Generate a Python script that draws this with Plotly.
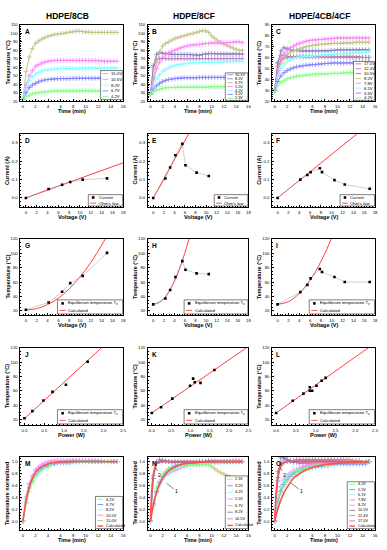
import plotly.graph_objects as go

FONT = "Liberation Sans, Arial, sans-serif"
W, H = 387, 550

# ---------------- data ----------------
T_MIN = [0, 0.5, 1, 1.5, 2, 2.5, 3, 3.5, 4, 4.5, 5, 5.5, 6, 6.5, 7, 7.5,
         8, 8.5, 9, 9.5, 10, 10.5, 11, 11.5, 12, 12.5, 13, 13.5, 14, 14.5, 15]

# A: HDPE/8CB heating curves
A_LABELS = ["15.0V", "10.5V", "8.2V", "6.7V", "4.2V"]
A_15_0 = [22, 55, 72, 82, 88, 91, 93, 95, 96.5, 97.5, 98.5, 99, 99.5, 100, 101, 101.5,
          102, 102.5, 102.5, 102, 101.5, 101.5, 101, 101, 101, 101, 101, 101, 101, 101, 101]
A_10_5 = [22, 39, 50, 56, 61, 63, 65, 66, 67, 67.5, 68, 68, 68, 68, 68, 68,
          68, 68, 68, 68, 68, 68, 68, 68, 67.5, 67.5, 67, 67, 67, 67, 67]
A_8_2 = [22, 35, 44, 49, 52, 54, 55.5, 56.5, 57, 57.5, 58, 58, 58.5, 58.5, 58.5, 58.5,
         58.5, 58.5, 58.5, 58.5, 59, 59, 59, 59, 59, 59, 59, 59, 59, 59, 59]
A_6_7 = [22, 30, 36, 39, 41, 43, 44, 45, 45.5, 46, 46, 46.5, 46.5, 46.5, 46.5, 46.5,
         47, 47, 47, 47, 47, 47, 47, 47, 47, 47, 47, 47, 47, 47, 47]
A_4_2 = [22, 25, 27, 28.5, 29.5, 30, 30.5, 31, 31, 31.5, 32, 32, 32, 32, 32, 32,
         32, 32, 32, 32, 32, 32, 32, 32, 32, 32, 32, 32, 32, 32, 32]
A_REF = [101, 67, 59, 47, 32]

# B: HDPE/8CF heating curves
B_LABELS = ["10.5V", "8.2V", "6.7V", "5.5V", "4.2V", "3.2V", "2.3V"]
B_10_5 = [28, 60, 69, 70, 70.5, 70, 70, 70, 70, 70, 70, 70, 70, 70, 70, 70,
          70, 70, 70, 70, 70, 70, 70, 70, 70, 70, 70, 70, 70, 70, 70]
B_8_2 = [28, 62, 75, 77, 76.5, 76, 75.5, 75, 75, 75, 75, 75, 75, 75, 74.5, 74.5,
         74, 75, 75.5, 76, 76, 76, 75.5, 75.5, 75.5, 75.5, 75.5, 75.5, 75.5, 75.5, 75.5]
B_6_7 = [28, 48, 65, 78, 85, 88, 90, 92, 94, 95, 96, 97, 98, 99, 100, 101,
         102, 103, 103, 101, 97, 94, 91, 89, 87, 85.5, 84, 82.5, 81, 80, 80]
B_5_5 = [28, 45, 58, 66, 71, 75, 77, 79, 80, 81.5, 83, 84, 85, 86, 86, 86.5,
         87, 87.5, 88, 88, 88.5, 88.5, 88.5, 89, 89, 89, 89, 89.5, 90, 90, 89]
B_4_2 = [28, 38, 46, 51, 55, 57.5, 59.5, 61, 62, 63, 63.5, 64, 64.5, 65, 65, 65.5,
         65.5, 66, 66, 66, 66, 66, 66, 66, 66.5, 66.5, 66.5, 66.5, 67, 67, 67]
B_3_2 = [28, 34, 38, 41, 43, 44.5, 45.5, 46, 46.5, 47, 47, 47.5, 47.5, 47.5, 47.5, 47.5,
         48, 48, 48, 48, 48, 48, 48, 48, 48, 48, 48, 48, 48, 48, 48]
B_2_3 = [28, 31, 33, 34, 35, 35.5, 36, 36, 36, 36.5, 36.5, 36.5, 36.5, 36.5, 36.5, 36.5,
         36.5, 36.5, 36.5, 36.5, 37, 37, 37, 37, 37, 37, 37, 37, 37, 37, 37]
B_REF = [70, 75.5, 103, 89, 67, 48, 37]

# C: HDPE/4CB/4CF heating curves
C_LABELS = ["17.0V", "12.4V", "10.5V", "8.2V", "7.8V", "6.1V", "5.5V", "4.2V"]
C_17_0 = [30, 52, 58, 59.5, 60, 60.5, 60.5, 61, 61, 61, 61, 61, 61, 61, 61, 61,
          61, 61, 61, 61, 61, 61, 61, 61, 61, 60.5, 60.5, 60.5, 60, 60, 60]
C_12_4 = [30, 55, 62, 62, 61, 60.5, 60.5, 60.5, 60.5, 60.5, 60.5, 60.5, 60.5, 60.5, 60.5, 60.5,
          60.5, 60.5, 60.5, 60.5, 60.5, 60.5, 60.5, 60.5, 60, 60, 60, 60, 60, 60, 60]
C_10_5 = [30, 55, 66, 69, 68, 67, 66.5, 66.5, 66, 66, 66, 66, 66, 66, 66, 66,
          66, 66, 66.5, 66.5, 67, 67, 67, 67, 67, 67, 67, 67, 67, 67, 67]
C_8_2 = [30, 45, 55, 60, 63, 65, 66, 67, 68, 69, 70, 70.5, 71, 71.5, 72, 72,
         72.5, 72.5, 73, 73, 73, 73, 73.5, 73.5, 73.5, 73.5, 74, 74, 74, 74, 74]
C_7_8 = [30, 48, 58, 64, 67, 69, 70.5, 72, 73, 74, 75, 75.5, 76, 76, 76.5, 76.5,
         77, 77, 77.5, 77.5, 78, 78, 78, 78, 78, 78, 78, 78, 78, 78, 78]
C_6_1 = [30, 42, 50, 54, 56.5, 58, 59, 60, 60.5, 60.5, 61, 61, 61.5, 61.5, 62, 62,
         62.5, 62.5, 63, 63, 63.5, 63.5, 64, 64, 64, 64, 64, 64, 64.5, 64.5, 65]
C_5_5 = [30, 38, 43, 46, 48, 49.5, 50.5, 51.5, 52, 52.5, 53, 53, 53.5, 53.5, 54, 54,
         54.5, 54.5, 55, 55, 55, 55, 55, 55, 55, 55, 55, 55, 55, 55, 56]
C_4_2 = [29, 34, 37, 39, 40.5, 41.5, 42, 43, 43.5, 43.5, 44, 44, 44.5, 44.5, 45, 45,
         45, 45, 45.5, 45.5, 45.5, 45.5, 46, 46, 46, 46, 46, 46, 46, 46, 46]
C_REF = [60, 60, 67, 74, 78, 65, 56, 46]

# D/E/F: current vs voltage
D_V = [0, 4.2, 6.7, 8.2, 10.5, 15.0]
D_I = [0, 0.049, 0.072, 0.087, 0.100, 0.107]
D_OHM_V = [0, 18]
D_OHM_I = [0, 0.192]
E_V = [0, 2.3, 3.2, 4.2, 5.5, 6.1, 8.2, 10.5]
E_I = [0, 0.106, 0.166, 0.233, 0.295, 0.178, 0.138, 0.120]
E_OHM_V = [0, 6.7]
E_OHM_I = [0, 0.35]
F_V = [0, 4.2, 5.5, 6.1, 7.8, 8.2, 10.5, 12.4, 17.0]
F_I = [0, 0.100, 0.125, 0.140, 0.162, 0.141, 0.097, 0.073, 0.050]
F_OHM_V = [0, 14.7]
F_OHM_I = [0, 0.35]

# G/H/I: equilibrium temperature vs voltage
G_V = D_V
G_T = [21.5, 31.5, 46.5, 58.5, 68.5, 100.5]
G_CALC_V = [0, 2, 4, 6, 8, 10, 12, 14, 14.7]
G_CALC_T = [21, 23, 28.5, 37.5, 50.5, 67, 87, 111, 120]
H_V = E_V
H_T = [29, 37, 49, 67, 89, 77, 72, 71]
H_CALC_V = [0, 1, 2, 3, 4, 5, 6, 6.75]
H_CALC_T = [29, 31, 37, 47, 61, 79, 101, 120]
I_V = F_V
I_T = [29, 46, 56, 65, 78, 74, 67, 60, 60]
I_CALC_V = [0, 2, 4, 6, 7, 8, 9, 9.9]
I_CALC_T = [29, 32.7, 44, 62.5, 74.5, 88.5, 104, 120]

# J/K/L: equilibrium temperature vs power
J_P = [0, 0.20, 0.48, 0.71, 1.05, 1.60]
J_CALC_P = [0, 1.95]
J_CALC_T = [21, 120]
K_P = [0, 0.24, 0.53, 0.99, 1.62, 1.07, 1.11, 1.26]
K_CALC_P = [0, 2.45]
K_CALC_T = [29, 120]
L_P = [0, 0.42, 0.69, 0.85, 1.25, 1.15, 1.02, 0.91, 0.85]
L_CALC_P = [0, 2.33]
L_CALC_T = [29, 120]

# M/N/O: calculated normalized curves
M_CALC_T = [0, 0.5, 1, 1.5, 2, 2.5, 3, 4, 5, 6, 8, 15]
M_CALC_N = [0, 0.35, 0.57, 0.72, 0.82, 0.88, 0.92, 0.965, 0.985, 0.995, 1, 1]
N_FAST_T = [0, 0.25, 0.5, 0.75, 1, 1.5, 2, 3, 15]
N_FAST_N = [0, 0.55, 0.80, 0.91, 0.96, 0.99, 1, 1, 1]
N_SLOW_T = [0, 0.5, 1, 1.5, 2, 2.5, 3, 4, 5, 6, 8, 10, 15]
N_SLOW_N = [0, 0.28, 0.48, 0.62, 0.72, 0.79, 0.85, 0.91, 0.95, 0.97, 0.99, 1, 1]
O_FAST_T = [0, 0.25, 0.5, 0.75, 1, 1.5, 2, 3, 15]
O_FAST_N = [0, 0.5, 0.75, 0.88, 0.94, 0.985, 1, 1, 1]
O_SLOW_T = [0, 0.5, 1, 1.5, 2, 2.5, 3, 4, 5, 6, 8, 10, 12, 15]
O_SLOW_N = [0, 0.2, 0.36, 0.48, 0.57, 0.65, 0.72, 0.8, 0.86, 0.9, 0.95, 0.97, 0.985, 1.0]

# colours
GREEN, BLUE, CYAN, MAGENTA = "#80FF80", "#8080FF", "#80FFFF", "#FF80FF"
OLIVE, NAVY, PURPLE, WINE = "#C0C080", "#8080C0", "#C080C0", "#C08080"
RED = "#FF4040"
A_COLORS = [OLIVE, MAGENTA, CYAN, BLUE, GREEN]
B_COLORS = [PURPLE, NAVY, OLIVE, MAGENTA, CYAN, BLUE, GREEN]
C_COLORS = [WINE, PURPLE, NAVY, OLIVE, MAGENTA, CYAN, BLUE, GREEN]

A_SERIES = [A_15_0, A_10_5, A_8_2, A_6_7, A_4_2]
B_SERIES = [B_10_5, B_8_2, B_6_7, B_5_5, B_4_2, B_3_2, B_2_3]
C_SERIES = [C_17_0, C_12_4, C_10_5, C_8_2, C_7_8, C_6_1, C_5_5, C_4_2]

# ---------------- layout helpers ----------------
COLS_PX = [(20.7, 124.5), (149.5, 251.0), (275.0, 379.0)]
ROWS_PX = [(23, 100), (133, 207), (239, 316), (349, 427), (459, 533)]

fig = go.Figure()


def nid(r, c):
    return r * 3 + c + 1


def xn(n):
    return "x" if n == 1 else f"x{n}"


def yn(n):
    return "y" if n == 1 else f"y{n}"


def add_axes(r, c, xr, yr, xdt, ydt, xtitle, ytitle, xfmt="", yfmt="", letter=""):
    n = nid(r, c)
    x0, x1 = COLS_PX[c]
    y0, y1 = ROWS_PX[r]
    common = dict(showline=True, linecolor="black", linewidth=0.7, mirror=True,
                  ticks="inside", ticklen=2, tickwidth=0.6, tickcolor="black",
                  showgrid=False, zeroline=False, tick0=0, ticklabelstandoff=1,
                  tickfont=dict(size=4.3, family=FONT, color="black"),
                  minor=dict(ticks="inside", ticklen=1, tickwidth=0.5, tickcolor="black"))
    kx = "xaxis" if n == 1 else f"xaxis{n}"
    ky = "yaxis" if n == 1 else f"yaxis{n}"
    fig.update_layout(**{
        kx: dict(domain=[x0 / W, x1 / W], anchor=yn(n), range=xr, dtick=xdt,
                 tickformat=xfmt, **common),
        ky: dict(domain=[1 - y1 / H, 1 - y0 / H], anchor=xn(n), range=yr, dtick=ydt,
                 tickformat=yfmt, **common),
    })
    fig.add_annotation(x=(x0 + x1) / 2 / W, y=1 - (y1 + 10) / H, xref="paper", yref="paper",
                       text=f"<b>{xtitle}</b>", showarrow=False, borderpad=0,
                       font=dict(size=5.5, family=FONT, color="black"),
                       xanchor="center", yanchor="middle")
    fig.add_annotation(x=(x0 - 13) / W, y=1 - (y0 + y1) / 2 / H, xref="paper", yref="paper",
                       text=f"<b>{ytitle}</b>", showarrow=False, textangle=-90, borderpad=0,
                       font=dict(size=5.5, family=FONT, color="black"),
                       xanchor="center", yanchor="middle")
    fig.add_annotation(x=0.03, y=0.97, xref=f"{xn(n)} domain", yref=f"{yn(n)} domain",
                       text=f"<b>{letter}</b>", showarrow=False, borderpad=0,
                       font=dict(size=6.5, family=FONT, color="black"),
                       xanchor="left", yanchor="top")
    return n


def legend(n, items, x0, x1, y0, y1, fs=4.2, samp=0.055):
    xr, yr = f"{xn(n)} domain", f"{yn(n)} domain"
    r, c = divmod(n - 1, 3)
    wpx = COLS_PX[c][1] - COLS_PX[c][0]
    hpx = ROWS_PX[r][1] - ROWS_PX[r][0]
    fig.add_shape(type="rect", xref=xr, yref=yr, x0=x0, x1=x1, y0=y0, y1=y1,
                  line=dict(color="black", width=0.5), fillcolor="white")
    step = (y1 - y0) / len(items)
    for i, (label, color, kind) in enumerate(items):
        yc = y1 - step * (i + 0.5)
        xs = x0 + 0.02
        if kind == "marker":
            cx = xs + samp / 2
            dx, dy = 1.3 / wpx, 1.3 / hpx
            fig.add_shape(type="rect", xref=xr, yref=yr, x0=cx - dx, x1=cx + dx,
                          y0=yc - dy, y1=yc + dy, line=dict(width=0), fillcolor="black")
        else:
            w = 1.4 if kind == "thick" else 0.9
            fig.add_shape(type="line", xref=xr, yref=yr, x0=xs, x1=xs + samp, y0=yc, y1=yc,
                          line=dict(color=color, width=w))
        fig.add_annotation(x=xs + samp + 0.015, y=yc, xref=xr, yref=yr, text=label,
                           showarrow=False, borderpad=0,
                           font=dict(size=fs, family=FONT, color="black"),
                           xanchor="left", yanchor="middle")


def curve(n, x, y, color, width=0.9, marker=True, shape="linear"):
    fig.add_trace(go.Scatter(
        x=x, y=y, xaxis=xn(n), yaxis=yn(n), showlegend=False,
        mode="lines+markers" if marker else "lines",
        line=dict(color=color, width=width, shape=shape),
        marker=dict(symbol="cross-thin", size=3.5, line=dict(width=0.8, color=color)),
        hoverinfo="skip"))


def points(n, x, y, connect=True):
    fig.add_trace(go.Scatter(
        x=x, y=y, xaxis=xn(n), yaxis=yn(n), showlegend=False,
        mode="lines+markers" if connect else "markers",
        line=dict(color="#A0A0A0", width=0.5),
        marker=dict(symbol="square", size=2.6, color="black"),
        hoverinfo="skip"))


def normalize(series, ref):
    return [(v - series[0]) / (ref - series[0]) for v in series]


# column titles
for c, title in enumerate(["HDPE/8CB", "HDPE/8CF", "HDPE/4CB/4CF"]):
    x0, x1 = COLS_PX[c]
    fig.add_annotation(x=((x0 + x1) / 2 - 4) / W, y=1 - 14 / H, xref="paper", yref="paper",
                       text=f"<b>{title}</b>", showarrow=False,
                       font=dict(size=8.5, family=FONT, color="black"),
                       xanchor="center", yanchor="middle")

# ---------------- row 1: heating curves ----------------
for c, (series, labels, colors, yr, letter) in enumerate([
        (A_SERIES, A_LABELS, A_COLORS, [20, 110], "A"),
        (B_SERIES, B_LABELS, B_COLORS, [20, 110], "B"),
        (C_SERIES, C_LABELS, C_COLORS, [20, 90], "C")]):
    n = add_axes(0, c, [-0.4, 16], yr, 2, 10, "Time (min)", "Temperature (°C)", letter=letter)
    for s, col in zip(series, colors):
        curve(n, T_MIN, s, col)
legend(nid(0, 0), [(l, c, "line") for l, c in zip(A_LABELS, A_COLORS)], 0.78, 0.995, 0.02, 0.40)
legend(nid(0, 1), [(l, c, "line") for l, c in zip(B_LABELS, B_COLORS)], 0.77, 0.995, 0.01, 0.37, fs=3.8)
legend(nid(0, 2), [(l, c, "line") for l, c in zip(C_LABELS, C_COLORS)], 0.79, 0.995, 0.01, 0.52)

# ---------------- row 2: current vs voltage ----------------
for c, (v, i, ov, oi, letter) in enumerate([
        (D_V, D_I, D_OHM_V, D_OHM_I, "D"),
        (E_V, E_I, E_OHM_V, E_OHM_I, "E"),
        (F_V, F_I, F_OHM_V, F_OHM_I, "F")]):
    n = add_axes(1, c, [-1, 18], [-0.05, 0.35], 2, 0.1, "Voltage (V)", "Current (A)",
                 yfmt=".1f", letter=letter)
    fig.add_trace(go.Scatter(x=ov, y=oi, xaxis=xn(n), yaxis=yn(n), mode="lines",
                             line=dict(color=RED, width=1), showlegend=False, hoverinfo="skip"))
    points(n, v, i)
    legend(n, [("Current", "black", "marker"), ("Ohm's law", RED, "line")],
           0.66, 0.995, 0.015, 0.17)

# ---------------- row 3: temperature vs voltage ----------------
for c, (v, t, cv, ct, letter) in enumerate([
        (G_V, G_T, G_CALC_V, G_CALC_T, "G"),
        (H_V, H_T, H_CALC_V, H_CALC_T, "H"),
        (I_V, I_T, I_CALC_V, I_CALC_T, "I")]):
    n = add_axes(2, c, [-1, 18], [14, 120], 2, 20, "Voltage (V)", "Temperature (°C)", letter=letter)
    fig.add_trace(go.Scatter(x=cv, y=ct, xaxis=xn(n), yaxis=yn(n), mode="lines",
                             line=dict(color=RED, width=1, shape="spline"),
                             showlegend=False, hoverinfo="skip"))
    points(n, v, t)
    legend(n, [("Equilibrium temperature T<sub>e</sub>", "black", "marker"),
               ("Calculated", RED, "line")], 0.36, 0.995, 0.015, 0.20, samp=0.06)

# ---------------- row 4: temperature vs power ----------------
for c, (p, t, cp, ct, letter) in enumerate([
        (J_P, G_T, J_CALC_P, J_CALC_T, "J"),
        (K_P, H_T, K_CALC_P, K_CALC_T, "K"),
        (L_P, I_T, L_CALC_P, L_CALC_T, "L")]):
    n = add_axes(3, c, [-0.1, 2.5], [12, 120], 0.5, 20, "Power (W)", "Temperature (°C)",
                 xfmt=".1f", letter=letter)
    fig.add_trace(go.Scatter(x=cp, y=ct, xaxis=xn(n), yaxis=yn(n), mode="lines",
                             line=dict(color=RED, width=1), showlegend=False, hoverinfo="skip"))
    points(n, p, t, connect=False)
    legend(n, [("Equilibrium temperature T<sub>e</sub>", "black", "marker"),
               ("Calculated", RED, "line")], 0.36, 0.995, 0.015, 0.20, samp=0.06)

# ---------------- row 5: normalized temperature ----------------
row5 = [
    (A_SERIES, A_REF, A_LABELS, A_COLORS, [(M_CALC_T, M_CALC_N)], "M"),
    (B_SERIES, B_REF, B_LABELS, B_COLORS, [(N_FAST_T, N_FAST_N), (N_SLOW_T, N_SLOW_N)], "N"),
    (C_SERIES, C_REF, C_LABELS, C_COLORS, [(O_FAST_T, O_FAST_N), (O_SLOW_T, O_SLOW_N)], "O"),
]
leg5 = [(0.73, 0.995, 0.02, 0.46, 4.0), (0.77, 0.995, 0.02, 0.74, 3.8), (0.73, 0.995, 0.02, 0.66, 3.8)]
for c, (series, refs, labels, colors, calcs, letter) in enumerate(row5):
    n = add_axes(4, c, [-0.4, 16], [-0.15, 1.08], 2, 0.2, "Time (min)", "Temperature normalized",
                 yfmt=".1f", letter=letter)
    for s, ref, col in zip(series, refs, colors):
        curve(n, T_MIN, normalize(s, ref), col, width=0.8)
    for ct, cn in calcs:
        curve(n, ct, cn, "#FF5050", width=1.6, marker=False, shape="spline")
    items = [(l, col, "line") for l, col in zip(labels[::-1], colors[::-1])]
    items.append(("Calculated", "#FF5050", "thick"))
    x0, x1, y0, y1, fs = leg5[c]
    legend(n, items, x0, x1, y0, y1, fs=fs)
    if c > 0:
        fig.add_annotation(x=2.6, y=0.64, ax=4.3, ay=0.5, xref=xn(n), yref=yn(n),
                           axref=xn(n), ayref=yn(n), text="1", showarrow=True,
                           arrowhead=0, arrowwidth=0.5, arrowcolor="black",
                           font=dict(size=5, family=FONT, color="black"))
        fig.add_annotation(x=0.9, y=0.9, ax=1.5, ay=0.77, xref=xn(n), yref=yn(n),
                           axref=xn(n), ayref=yn(n), text="2", showarrow=True,
                           arrowhead=0, arrowwidth=0.5, arrowcolor="black",
                           font=dict(size=5, family=FONT, color="black"))

fig.update_layout(width=W, height=H, margin=dict(l=0, r=0, t=0, b=0),
                  paper_bgcolor="white", plot_bgcolor="white",
                  font=dict(family=FONT, color="black"), showlegend=False)

fig.write_html("out.html", config={"displayModeBar": False},
               post_script="document.body.style.margin='0';document.body.style.overflow='hidden';")
